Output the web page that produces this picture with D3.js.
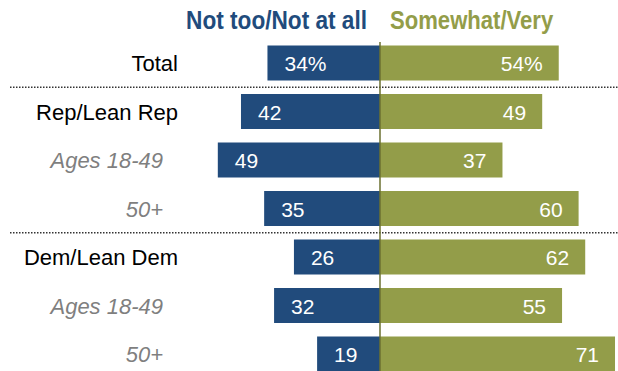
<!DOCTYPE html>
<html>
<head>
<meta charset="utf-8">
<script src="https://cdn.jsdelivr.net/npm/d3@7"></script>
<style>
  body { margin: 0; background: #fff; }
  svg { display: block; font-family: "Liberation Sans", Arial, sans-serif; }
</style>
</head>
<body>
<svg id="chart" width="618" height="371"></svg>
<script>
const categories = ["Total", "Rep/Lean Rep", "Ages 18-49", "50+", "Dem/Lean Dem", "Ages 18-49 ", "50+ "];
const subgroup = [false, false, true, true, false, true, true];
const notTooValues = [34, 42, 49, 35, 26, 32, 19];
const somewhatValues = [54, 49, 37, 60, 62, 55, 71];
const seriesNames = ["Not too/Not at all", "Somewhat/Very"];
const dividerAfter = [0, 3];

const blue = "#214b7c", olive = "#939d49";

const svg = d3.select("#chart");
const center = 380;

const xLeft = d3.scaleLinear().domain([0, 100]).range([center, center - 331]);
const xRight = d3.scaleLinear().domain([0, 100]).range([center, center + 331]);
const y = d3.scalePoint().domain(categories).range([63, 354]);
const barH = 35;

// legend headers (condensed look via horizontal squeeze)
svg.append("text")
  .attr("transform", `translate(${center - 13},29) scale(0.87,1)`)
  .attr("text-anchor", "end")
  .style("font-weight", "bold").style("font-size", "26px")
  .style("fill", blue)
  .text(seriesNames[0]);
svg.append("text")
  .attr("transform", `translate(${center + 10},29) scale(0.85,1)`)
  .style("font-weight", "bold").style("font-size", "26px")
  .style("fill", olive)
  .text(seriesNames[1]);

// dotted dividers
svg.append("g")
  .selectAll("line")
  .data(dividerAfter)
  .enter()
  .append("line")
  .attr("x1", 10).attr("x2", 618)
  .attr("y1", d => (y(categories[d]) + y(categories[d + 1])) / 2)
  .attr("y2", d => (y(categories[d]) + y(categories[d + 1])) / 2)
  .attr("stroke", "#333")
  .attr("stroke-width", 1.5)
  .attr("stroke-dasharray", "1.5,1.5");

// bars
svg.append("g")
  .selectAll("rect")
  .data(categories)
  .enter()
  .append("rect")
  .attr("x", (d, i) => xLeft(notTooValues[i]))
  .attr("y", d => y(d) - barH / 2)
  .attr("width", (d, i) => center - xLeft(notTooValues[i]))
  .attr("height", barH)
  .attr("fill", blue);

svg.append("g")
  .selectAll("rect")
  .data(categories)
  .enter()
  .append("rect")
  .attr("x", center)
  .attr("y", d => y(d) - barH / 2)
  .attr("width", (d, i) => xRight(somewhatValues[i]) - center)
  .attr("height", barH)
  .attr("fill", olive);

// center axis
svg.append("line")
  .attr("x1", center).attr("x2", center)
  .attr("y1", 42).attr("y2", 371)
  .attr("stroke", "#6b7130")
  .attr("stroke-width", 1.5);

// value labels
svg.append("g")
  .selectAll("text")
  .data(categories)
  .enter()
  .append("text")
  .attr("x", (d, i) => xLeft(notTooValues[i]) + 17)
  .attr("y", d => y(d) + 8)
  .style("font-size", "21px")
  .style("fill", "#fff")
  .text((d, i) => notTooValues[i] + (i === 0 ? "%" : ""));

svg.append("g")
  .selectAll("text")
  .data(categories)
  .enter()
  .append("text")
  .attr("x", (d, i) => xRight(somewhatValues[i]) - 16)
  .attr("y", d => y(d) + 8)
  .attr("text-anchor", "end")
  .style("font-size", "21px")
  .style("fill", "#fff")
  .text((d, i) => somewhatValues[i] + (i === 0 ? "%" : ""));

// row labels
svg.append("g")
  .selectAll("text")
  .data(categories)
  .enter()
  .append("text")
  .attr("x", (d, i) => subgroup[i] ? 163 : 178)
  .attr("y", d => y(d) + 8)
  .attr("text-anchor", "end")
  .style("font-size", "22px")
  .style("font-style", (d, i) => subgroup[i] ? "italic" : "normal")
  .style("fill", (d, i) => subgroup[i] ? "#7f7f7f" : "#000")
  .text(d => d.trim());
</script>
</body>
</html>
